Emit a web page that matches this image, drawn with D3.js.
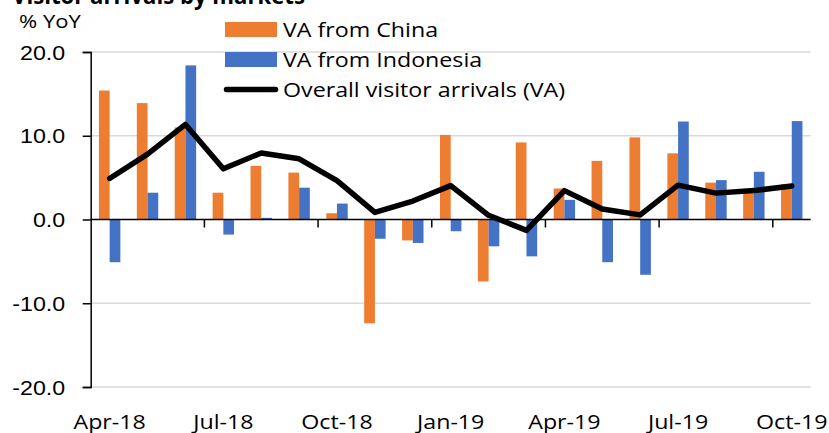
<!DOCTYPE html>
<html>
<head>
<meta charset="utf-8">
<script src="https://cdn.jsdelivr.net/npm/d3@7"></script>
<style>
  body { margin: 0; background: #fff; }
  svg { display: block; font-family: "Open Sans", "Liberation Sans", sans-serif; }
</style>
</head>
<body>
<svg id="chart"></svg>
<script>
// Mides
var width = 829, height = 433;
var margin = { left: 90.7, right: 18.3, top: 52, bottom: 46 };
var sx = 1.19; // el text original surt eixamplat en horitzontal

// Dades
var months = ["Apr-18","May-18","Jun-18","Jul-18","Aug-18","Sep-18","Oct-18","Nov-18","Dec-18",
  "Jan-19","Feb-19","Mar-19","Apr-19","May-19","Jun-19","Jul-19","Aug-19","Sep-19","Oct-19"];
var china = [15.4, 13.9, 11.0, 3.2, 6.4, 5.6, 0.75, -12.4, -2.5, 10.1, -7.4, 9.2, 3.7, 7.0, 9.8, 7.9, 4.4, 3.3, 4.2];
var indonesia = [-5.1, 3.2, 18.4, -1.8, 0.2, 3.8, 1.9, -2.3, -2.8, -1.4, -3.2, -4.4, 2.35, -5.1, -6.6, 11.7, 4.7, 5.7, 11.75];
var overall = [4.9, 7.8, 11.35, 6.05, 7.95, 7.25, 4.65, 0.85, 2.2, 4.05, 0.5, -1.3, 3.45, 1.25, 0.55, 4.1, 3.15, 3.45, 4.0];
var yTicks = [-20, -10, 0, 10, 20];
var xLabels = ["Apr-18","Jul-18","Oct-18","Jan-19","Apr-19","Jul-19","Oct-19"];

var colChina = "#ED7D31", colIndo = "#4472C4";

var svg = d3.select("#chart").attr("width", width).attr("height", height);

// Escales
var x = d3.scaleBand().domain(months).range([margin.left, width - margin.right]).padding(0);
var x1 = d3.scaleBand().domain(["china", "indo"]).range([0, x.bandwidth()]).paddingInner(0).paddingOuter(0.77);
var y = d3.scaleLinear().domain([-20, 20]).range([height - margin.bottom, margin.top]);

// Funció per posar un text eixamplat
function stretchText(parent, tx, ty, str, size, anchor) {
  return parent.append("text")
    .attr("transform", "translate(" + tx + "," + ty + ") scale(" + sx + ",1)")
    .attr("font-size", size)
    .attr("text-anchor", anchor || "start")
    .text(str);
}

// Títol (tallat a dalt com a l'original)
svg.append("text")
  .attr("x", 12).attr("y", 4)
  .attr("font-weight", "bold").attr("font-size", 23)
  .attr("textLength", 293).attr("lengthAdjust", "spacingAndGlyphs")
  .text("Visitor arrivals by markets");

stretchText(svg, 19, 28, "% YoY", 18.5);

// Graella
svg.append("g").selectAll("line")
  .data(yTicks.filter(d => d !== 0))
  .enter().append("line")
  .attr("x1", margin.left).attr("x2", width - margin.right)
  .attr("y1", d => y(d)).attr("y2", d => y(d))
  .attr("stroke", "#d9d9d9").attr("stroke-width", 1.3);

// Eix Y
var yAxis = d3.axisLeft(y).tickValues(yTicks).tickSize(8).tickFormat("");
var gy = svg.append("g").attr("transform", "translate(" + margin.left + ",0)").call(yAxis);
gy.select(".domain").attr("stroke", "#000").attr("stroke-width", 1.5);
gy.selectAll(".tick line").attr("stroke", "#000").attr("stroke-width", 1.5);
gy.selectAll(".tick").each(function(d) {
  stretchText(d3.select(this), -25.5, 0, d3.format(".1f")(d).replace("−", "-"), 19.5, "end")
    .attr("dy", "0.36em").attr("fill", "#000");
});

// Barres
var groups = svg.append("g").selectAll("g")
  .data(months)
  .enter().append("g")
  .attr("transform", d => "translate(" + x(d) + ",0)");

groups.append("rect")
  .attr("x", x1("china")).attr("width", x1.bandwidth())
  .attr("y", (d, i) => y(Math.max(0, china[i])))
  .attr("height", (d, i) => Math.abs(y(china[i]) - y(0)))
  .attr("fill", colChina);

groups.append("rect")
  .attr("x", x1("indo")).attr("width", x1.bandwidth())
  .attr("y", (d, i) => y(Math.max(0, indonesia[i])))
  .attr("height", (d, i) => Math.abs(y(indonesia[i]) - y(0)))
  .attr("fill", colIndo);

// Eix X a zero
var boundaries = d3.range(3, months.length, 3);
svg.append("line")
  .attr("x1", margin.left).attr("x2", width - margin.right)
  .attr("y1", y(0)).attr("y2", y(0))
  .attr("stroke", "#000").attr("stroke-width", 1.5);
svg.append("g").selectAll("line")
  .data(boundaries)
  .enter().append("line")
  .attr("x1", d => x(months[d])).attr("x2", d => x(months[d]))
  .attr("y1", y(0)).attr("y2", y(0) + 8)
  .attr("stroke", "#000").attr("stroke-width", 1.5);

var gx = svg.append("g");
xLabels.forEach(function(d) {
  stretchText(gx, x(d) + x.bandwidth() / 2, 429, d, 19.5, "middle");
});

// Línia total
var line = d3.line()
  .x((d, i) => x(months[i]) + x.bandwidth() / 2)
  .y(d => y(d));
svg.append("path")
  .datum(overall)
  .attr("d", line)
  .attr("fill", "none")
  .attr("stroke", "#000")
  .attr("stroke-width", 5.5)
  .attr("stroke-linejoin", "round")
  .attr("stroke-linecap", "round");

// Llegenda
var legend = [
  { label: "VA from China", type: "rect", color: colChina },
  { label: "VA from Indonesia", type: "rect", color: colIndo },
  { label: "Overall visitor arrivals (VA)", type: "line", color: "#000" }
];
var lg = svg.append("g").selectAll("g")
  .data(legend)
  .enter().append("g")
  .attr("transform", (d, i) => "translate(225," + (29.5 + i * 30) + ")");
lg.filter(d => d.type === "rect").append("rect")
  .attr("x", 0).attr("y", -7.5).attr("width", 52).attr("height", 15)
  .attr("fill", d => d.color);
lg.filter(d => d.type === "line").append("line")
  .attr("x1", 1.5).attr("x2", 50.5).attr("y1", 0).attr("y2", 0)
  .attr("stroke", "#000").attr("stroke-width", 5.5).attr("stroke-linecap", "round");
lg.each(function(d) {
  stretchText(d3.select(this), 58, 0, d.label, 19.5).attr("dy", "0.36em");
});
</script>
</body>
</html>
